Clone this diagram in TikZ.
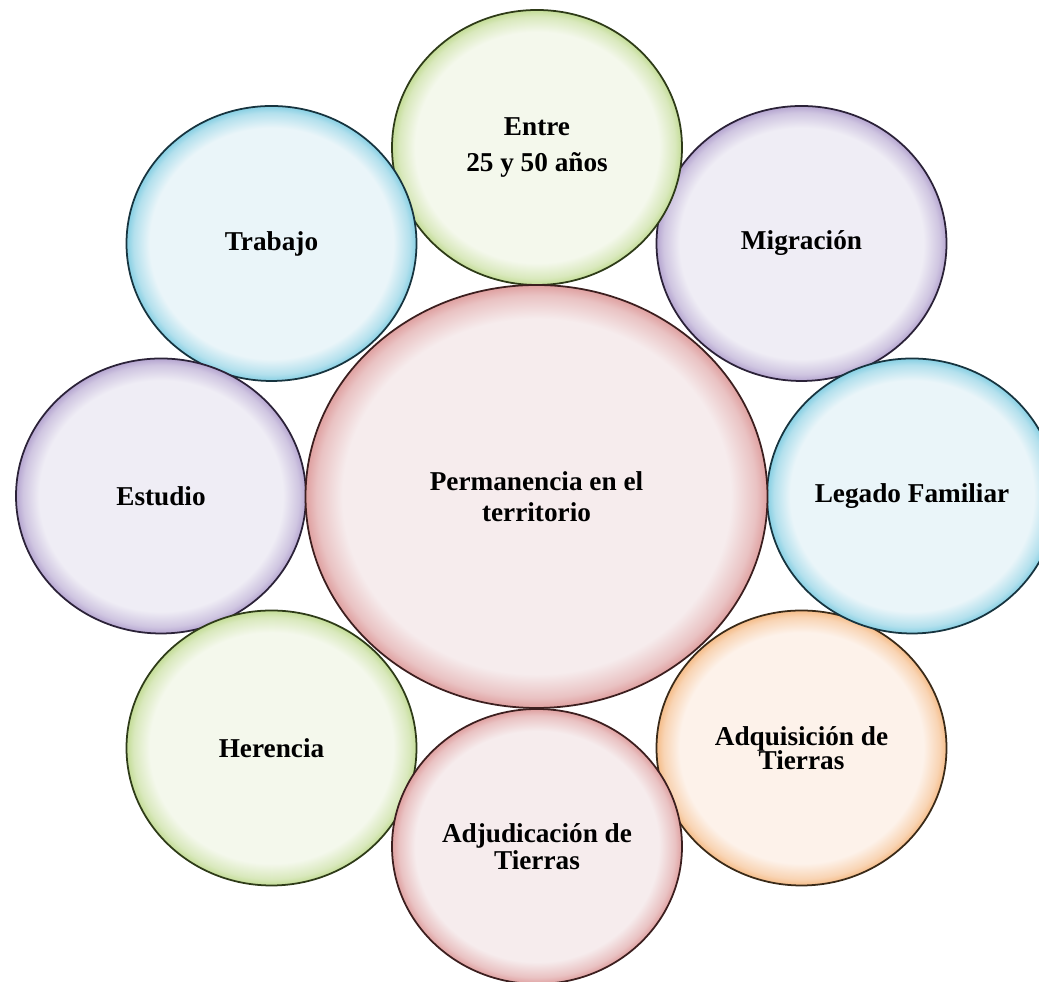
\documentclass[tikz,border=0pt]{standalone}
\usepackage{fontspec}
\setmainfont{Liberation Serif}
\usetikzlibrary{shapes.geometric}

\definecolor{grnin}{HTML}{F4F8EC}
\definecolor{grnrim}{HTML}{C3DC96}
\definecolor{grnline}{HTML}{2E3B18}
\definecolor{bluin}{HTML}{EAF5F9}
\definecolor{blurim}{HTML}{86CFE3}
\definecolor{bluline}{HTML}{17343F}
\definecolor{purin}{HTML}{EFEDF5}
\definecolor{purrim}{HTML}{B5A5D0}
\definecolor{purline}{HTML}{2B2238}
\definecolor{redin}{HTML}{F6ECED}
\definecolor{redrim}{HTML}{DFA0A0}
\definecolor{redline}{HTML}{3C1F1F}
\definecolor{orgin}{HTML}{FDF2EA}
\definecolor{orgrim}{HTML}{F5BC88}
\definecolor{orgline}{HTML}{3A2A18}

\colorlet{bubin}{white}
\colorlet{bubrim}{gray}
\pgfdeclareradialshading[bubin,bubrim]{bubble}{\pgforigin}{%
  color(0bp)=(bubin); color(21bp)=(bubin); color(23.8bp)=(bubrim!55!bubin);
  color(25bp)=(bubrim); color(50bp)=(bubrim)}

\tikzset{
  bub/.style={ellipse, inner sep=0pt, minimum width=5.8cm, minimum height=5.5cm,
    line width=1pt, draw=#1line,
    /utils/exec={\colorlet{bubin}{#1in}\colorlet{bubrim}{#1rim}},
    shading=bubble, text=black, align=center,
    font=\bfseries\fontsize{15.5}{17.5}\selectfont},
  big/.style={minimum width=9.24cm, minimum height=8.46cm}
}

\begin{document}
\begin{tikzpicture}
  \clip (0,0) rectangle (20.78,19.64);
  \fill[white] (0,0) rectangle (20.78,19.64);

  \node[bub=pur] (migracion) at (16.03,14.77) {Migración};
  \node[bub=grn] (edad) at (10.74,16.69) {Entre\\[3.5pt]25 y 50 años};
  \node[bub=blu] (trabajo) at (5.43,14.77) {Trabajo};
  \node[bub=pur] (estudio) at (3.22,9.72) {Estudio};
  \node[bub=grn] (herencia) at (5.43,4.68) {Herencia};
  \node[bub=org] (adquisicion) at (16.03,4.68) {Adquisición de\\[-3.5pt]Tierras};
  \node[bub=red] (adjudicacion) at (10.74,2.71) {Adjudicación de\\[-2pt]Tierras};
  \node[bub=blu] (legado) at (18.24,9.72) {Legado Familiar};
  \node[bub=red, big] (permanencia) at (10.73,9.71) {Permanencia en el\\territorio};
\end{tikzpicture}
\end{document}
